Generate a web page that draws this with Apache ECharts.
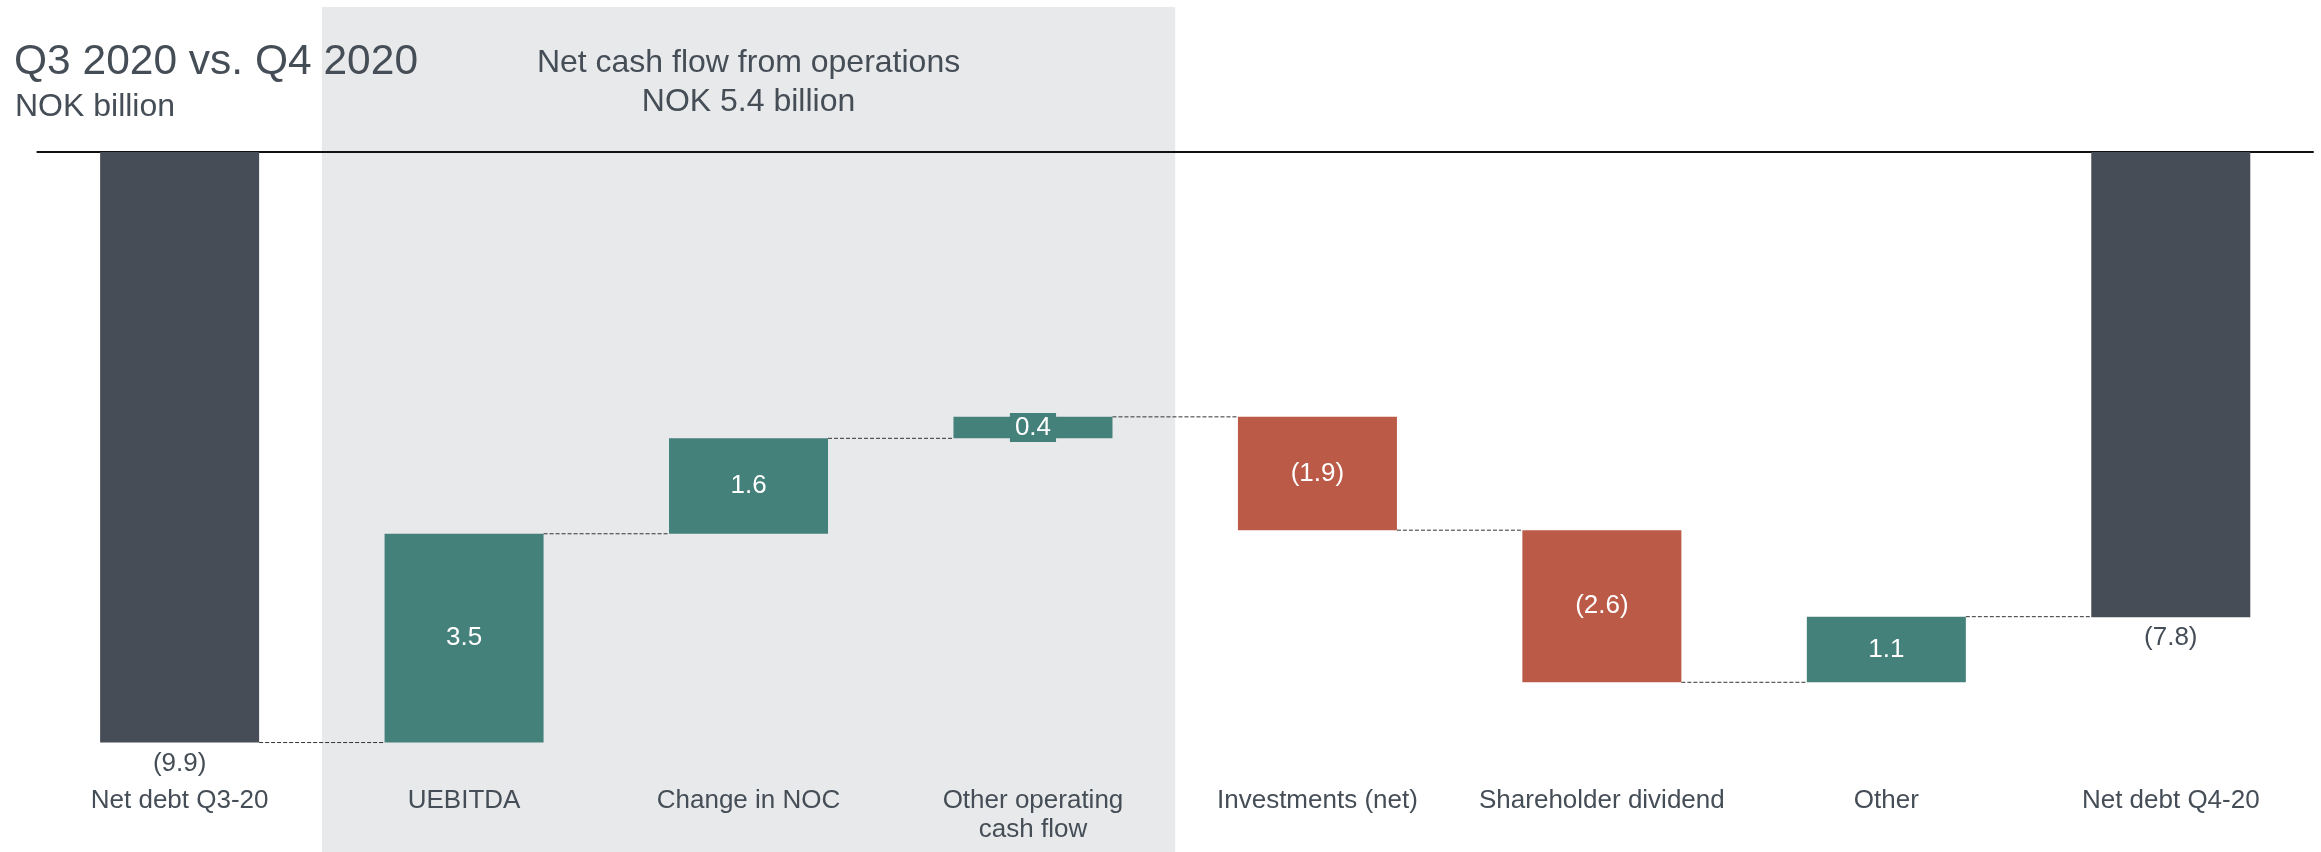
<!DOCTYPE html>
<html>
<head>
<meta charset="utf-8">
<script src="https://cdn.jsdelivr.net/npm/echarts@6/dist/echarts.min.js"></script>
<style>
  html, body { margin: 0; padding: 0; background: #fff; }
  #chart { width: 2321px; height: 852px; }
</style>
</head>
<body>
<div id="chart"></div>
<script>
var categories = ['Net debt Q3-20', 'UEBITDA', 'Change in NOC', 'Other operating\ncash flow',
                  'Investments (net)', 'Shareholder dividend', 'Other', 'Net debt Q4-20'];
// totals are levels, the rest are changes
var changes = [-9.9, 3.5, 1.6, 0.36, -1.9, -2.55, 1.1, -7.8];
// printed labels as they appear on the chart
var valueLabels = ['(9.9)', '3.5', '1.6', '0.4', '(1.9)', '(2.6)', '1.1', '(7.8)'];
var kinds = ['total', 'up', 'up', 'up', 'down', 'down', 'up', 'total'];
var yTicks = [-10, 0];
var opsGroup = [1, 3];   // first and last category of the shaded block
var opsTitle = 'Net cash flow from operations\nNOK 5.4 billion';

var TEXT = '#454d56';
var FONT = 'Liberation Sans, Arial, sans-serif';
var COLORS = { total: '#464d56', up: '#43817a', down: '#bb5a47' };
var BAR_W = 0.559;

// running levels -> top/bottom of each bar
var hi = [], lo = [], level = [];
var run = 0;
changes.forEach(function (v, i) {
  if (kinds[i] == 'total') {
    run = v;
    hi.push(0); lo.push(v);
  } else {
    var next = run + v;
    hi.push(Math.max(run, next)); lo.push(Math.min(run, next));
    run = next;
  }
  level.push(+run.toFixed(3));
});

var barData = changes.map(function (v, i) {
  var item = {
    value: +(lo[i] - hi[i]).toFixed(3),
    itemStyle: { color: COLORS[kinds[i]] }
  };
  if (kinds[i] == 'total') {
    item.label = { position: 'bottom', distance: 8, color: TEXT };
  }
  if (Math.abs(v) < 0.5 && kinds[i] != 'total') {
    item.label = { backgroundColor: COLORS[kinds[i]], padding: [2, 5, 1, 5] };
  }
  return item;
});

var connectors = level.slice(0, -1).map(function (l, i) { return [i, l]; });

var chart = echarts.init(document.getElementById('chart'));
chart.setOption({
  animation: false,
  textStyle: { fontFamily: FONT },
  title: [
    { text: 'Q3 2020 vs. Q4 2020', left: 14, top: 41, padding: 0,
      textStyle: { fontSize: 42.5, fontWeight: 'normal', color: TEXT, fontFamily: FONT, lineHeight: 42.5 } },
    { text: 'NOK billion', left: 15, top: 91, padding: 0,
      textStyle: { fontSize: 32, fontWeight: 'normal', color: TEXT, fontFamily: FONT, lineHeight: 32 } }
  ],
  grid: { left: 37.4, right: 8, top: 152, bottom: 103.5 },
  xAxis: [{
    type: 'category',
    data: categories,
    position: 'bottom',
    axisLine: { show: false, onZero: false },
    axisTick: { show: false },
    axisLabel: { margin: 38, fontSize: 26, lineHeight: 29, color: TEXT, fontFamily: FONT, interval: 0 }
  }, {
    type: 'category',
    data: categories,
    position: 'top',
    axisLine: { show: true, onZero: false, lineStyle: { color: '#111', width: 2 } },
    axisTick: { show: false },
    axisLabel: { show: false }
  }],
  yAxis: {
    type: 'value',
    min: yTicks[0], max: yTicks[1],
    show: false,
    splitLine: { show: false }
  },
  series: [{
    // shaded block behind the operating items
    type: 'custom',
    silent: true,
    z: 0,
    data: [[opsGroup[0], opsGroup[1]]],
    renderItem: function (params, api) {
      var band = api.size([1, 0])[0];
      var x0 = api.coord([api.value(0), 0])[0] - band / 2;
      var x1 = api.coord([api.value(1), 0])[0] + band / 2;
      return {
        type: 'group',
        children: [{
          type: 'rect',
          shape: { x: x0, y: 7, width: x1 - x0, height: api.getHeight() - 7 },
          style: { fill: '#e8e9eb' }
        }, {
          type: 'text',
          x: (x0 + x1) / 2, y: 83,
          style: {
            text: opsTitle, align: 'center', verticalAlign: 'middle',
            fontSize: 32, lineHeight: 39, fill: TEXT, fontFamily: FONT
          }
        }]
      };
    }
  }, {
    type: 'bar',
    stack: 'wf',
    barWidth: (BAR_W * 100) + '%',
    itemStyle: { color: 'transparent' },
    silent: true,
    data: hi
  }, {
    type: 'bar',
    stack: 'wf',
    z: 3,
    data: barData,
    label: {
      show: true,
      position: 'inside',
      color: '#fff',
      fontSize: 26,
      fontFamily: FONT,
      formatter: function (p) { return valueLabels[p.dataIndex]; }
    }
  }, {
    // dashed connectors between bars
    type: 'custom',
    silent: true,
    z: 2,
    data: connectors,
    renderItem: function (params, api) {
      var band = api.size([1, 0])[0];
      var p = api.coord([api.value(0), api.value(1)]);
      var half = band * BAR_W / 2;
      return {
        type: 'line',
        shape: { x1: p[0] + half, y1: p[1], x2: p[0] + band - half, y2: p[1] },
        style: { stroke: '#333', lineWidth: 1, lineDash: [4, 2] }
      };
    }
  }]
});
</script>
</body>
</html>
